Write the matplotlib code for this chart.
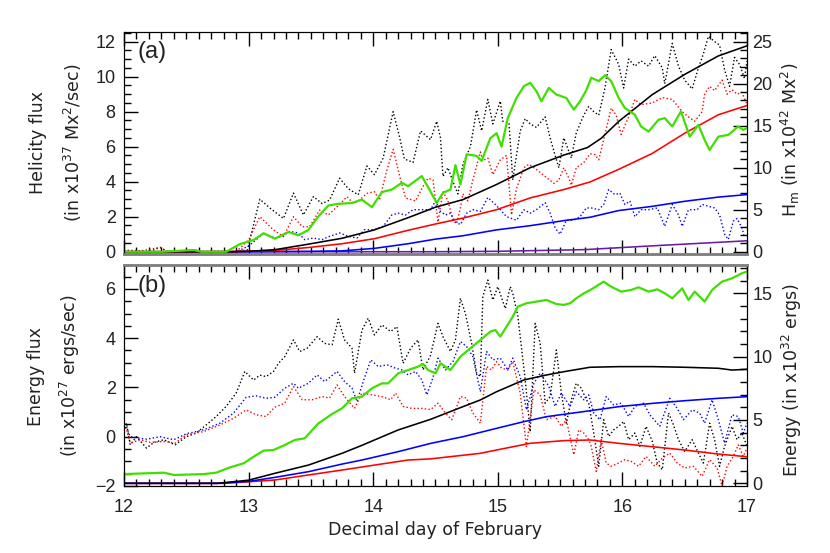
import matplotlib
matplotlib.use('Agg')
import matplotlib.pyplot as plt
from matplotlib.ticker import MultipleLocator

plt.rcParams['font.family'] = ['Liberation Sans', 'DejaVu Sans']
plt.rcParams['mathtext.default'] = 'regular'

# ---------------- panel (a): helicity ----------------
# dotted curves: helicity flux (left axis, x10^37 Mx^2/sec)
a_blk_dot_day = [12.0, 12.1, 12.2, 12.29, 12.35, 12.56, 12.65, 12.88, 12.99, 13.09, 13.17, 13.28,
                 13.36, 13.44, 13.52, 13.59, 13.65, 13.73, 13.80, 13.88, 13.95, 14.01, 14.08, 14.16,
                 14.21, 14.25, 14.32, 14.38, 14.46, 14.51, 14.54, 14.56, 14.60, 14.64, 14.68, 14.72,
                 14.78, 14.83, 14.87, 14.92, 14.96, 15.02, 15.04, 15.09, 15.12, 15.18, 15.22, 15.26,
                 15.31, 15.38, 15.42, 15.46, 15.49, 15.53, 15.59, 15.63, 15.69, 15.73, 15.77, 15.81,
                 15.86, 15.91, 15.97, 16.01, 16.05, 16.10, 16.15, 16.21, 16.26, 16.32, 16.34, 16.40,
                 16.45, 16.50, 16.56, 16.61, 16.65, 16.69, 16.74, 16.78, 16.82, 16.86, 16.90, 16.94,
                 16.98, 17.0]
a_blk_dot = [0.0, 0.05, 0.0, 0.25, 0.0, 0.1, 0.0, 0.0, 0.1, 3.0, 2.5, 1.9,
             3.35, 2.1, 3.15, 2.75, 2.95, 4.2, 3.6, 3.25, 4.9, 4.4, 5.35, 8.0,
             6.6, 5.3, 5.1, 6.9, 6.4, 7.45, 6.5, 4.3, 4.8, 4.0, 3.3, 5.0,
             6.0, 8.1, 6.9, 8.7, 7.3, 8.6, 7.45, 7.35, 4.1, 6.9, 7.6, 7.3,
             7.1, 7.7, 6.5, 5.5, 4.8, 6.5, 5.35, 6.8, 7.8, 8.3, 8.0, 7.8,
             9.35, 11.55, 10.7, 9.35, 11.0, 10.6, 10.9, 10.6, 11.2, 10.5, 9.6, 11.9,
             10.6, 9.8, 9.3, 10.5, 11.3, 12.3, 12.0, 11.8, 10.4, 9.45, 11.1, 10.7,
             9.9, 10.9]

a_red_dot_day = [12.0, 12.05, 12.1, 12.29, 12.35, 12.56, 12.6, 12.74, 12.9, 13.0, 13.09, 13.20,
                 13.28, 13.36, 13.43, 13.49, 13.57, 13.64, 13.71, 13.79, 13.84, 13.89, 13.95, 14.01,
                 14.05, 14.11, 14.16, 14.22, 14.26, 14.34, 14.39, 14.44, 14.48, 14.52, 14.56, 14.60,
                 14.64, 14.67, 14.70, 14.72, 14.76, 14.80, 14.86, 14.88, 14.92, 14.96, 15.02, 15.07,
                 15.11, 15.15, 15.21, 15.25, 15.31, 15.38, 15.45, 15.49, 15.53, 15.57, 15.59, 15.63,
                 15.69, 15.74, 15.78, 15.81, 15.86, 15.91, 15.95, 15.99, 16.05, 16.10, 16.15, 16.24,
                 16.32, 16.40, 16.48, 16.53, 16.58, 16.64, 16.66, 16.70, 16.74, 16.80, 16.84, 16.88,
                 16.92, 16.96, 17.0]
a_red_dot = [0.05, 0.1, 0.0, 0.25, 0.0, 0.08, 0.0, 0.05, 0.0, 0.67, 2.0, 1.24,
             0.86, 2.0, 1.43, 1.43, 2.38, 2.1, 2.57, 3.14, 2.76, 2.95, 3.33, 3.43,
             2.95, 4.67, 5.85, 4.1, 3.07, 2.9, 3.6, 4.2, 4.1, 1.7, 3.45, 2.9,
             1.8, 1.6, 2.5, 3.3, 2.9, 4.1, 5.7, 5.2, 5.35, 4.4, 5.25, 5.5,
             2.1, 3.6, 4.8, 5.0, 4.7, 4.3, 3.9, 4.1, 4.8, 4.2, 3.8, 4.8,
             5.1, 5.6, 5.55, 5.25, 6.7, 8.2, 7.8, 6.7, 7.7, 8.7, 8.4, 8.5,
             8.8, 8.7, 8.0, 7.7, 7.45, 8.0, 9.0, 9.45, 9.2, 9.8, 9.0, 9.25,
             9.0, 9.1, 8.4]

a_blu_dot_day = [12.0, 12.9, 13.0, 13.12, 13.21, 13.27, 13.33, 13.40, 13.45, 13.52, 13.59, 13.65,
                 13.73, 13.80, 13.87, 13.93, 14.01, 14.08, 14.15, 14.20, 14.26, 14.32, 14.39, 14.46,
                 14.50, 14.54, 14.58, 14.62, 14.66, 14.70, 14.75, 14.80, 14.86, 14.92, 14.98, 15.02,
                 15.07, 15.15, 15.21, 15.26, 15.31, 15.38, 15.42, 15.46, 15.50, 15.55, 15.61, 15.66,
                 15.71, 15.75, 15.81, 15.85, 15.89, 15.94, 15.98, 16.02, 16.06, 16.10, 16.15, 16.21,
                 16.28, 16.34, 16.40, 16.45, 16.48, 16.53, 16.60, 16.64, 16.69, 16.74, 16.78, 16.82,
                 16.85, 16.89, 16.92, 16.96, 16.98]
a_blu_dot = [0.0, 0.0, 0.32, 1.05, 0.78, 0.88, 1.16, 1.07, 0.69, 0.78, 0.69, 0.88,
             1.07, 0.88, 0.78, 1.26, 1.26, 1.45, 2.1, 2.2, 2.1, 2.4, 2.4, 2.4,
             2.9, 2.3, 2.1, 2.2, 1.7, 1.55, 2.2, 2.4, 2.3, 3.1, 2.7, 2.4,
             2.0, 1.8, 2.4, 2.2, 2.4, 2.8, 2.2, 1.35, 1.0, 1.8, 1.8, 2.0,
             2.5, 2.5, 2.4, 2.7, 3.55, 3.26, 3.35, 2.7, 2.9, 2.0, 2.4, 2.4,
             2.5, 1.45, 2.7, 2.1, 1.45, 2.4, 2.4, 2.7, 2.6, 2.5, 2.1, 1.0,
             0.7, 1.75, 1.9, 1.35, 0.8]

# green and solid curves: right axis (H_m, x10^42 Mx^2)
a_grn_day = [12.0, 12.3, 12.56, 12.62, 12.82, 12.93, 13.04, 13.12, 13.21, 13.32, 13.40, 13.48,
             13.56, 13.64, 13.72, 13.83, 13.91, 13.99, 14.07, 14.15, 14.23, 14.28, 14.39, 14.44,
             14.51, 14.56, 14.62, 14.66, 14.70, 14.75, 14.83, 14.87, 14.94, 14.99, 15.03, 15.08,
             15.15, 15.21, 15.26, 15.31, 15.35, 15.41, 15.47, 15.55, 15.61, 15.66, 15.71, 15.75,
             15.81, 15.86, 15.91, 15.97, 16.02, 16.10, 16.15, 16.21, 16.29, 16.34, 16.40, 16.47,
             16.54, 16.61, 16.66, 16.70, 16.77, 16.85, 16.93, 16.97, 17.0]
a_grn = [0.0, 0.0, 0.2, 0.0, 0.0, 0.9, 1.4, 2.2, 1.55, 2.35, 1.95, 2.6,
         4.2, 5.5, 5.7, 5.8, 6.2, 5.3, 7.1, 7.4, 8.2, 7.8, 9.0, 7.7,
         5.8, 7.0, 7.4, 10.3, 8.0, 11.6, 11.4, 10.8, 13.5, 14.1, 12.5, 15.9,
         18.3, 19.7, 20.1, 19.1, 17.9, 19.5, 18.7, 18.3, 16.9, 17.9, 19.2, 20.7,
         20.3, 21.0, 20.3, 18.3, 17.1, 16.3, 14.9, 14.3, 15.7, 15.9, 14.9, 16.7,
         13.7, 15.1, 13.3, 12.1, 13.7, 13.9, 14.9, 14.5, 14.7]

a_blk_day = [12.0, 12.85, 13.0, 13.21, 13.48, 13.75, 14.01, 14.28, 14.50, 14.72, 14.99, 15.26,
             15.53, 15.72, 15.83, 15.97, 16.24, 16.50, 16.77, 17.0]
a_blk = [0.0, 0.0, 0.05, 0.24, 0.9, 1.6, 2.6, 4.05, 5.3, 6.2, 8.0, 10.0,
         11.5, 12.4, 13.5, 15.5, 18.7, 21.1, 23.3, 24.5]

a_red_day = [12.0, 12.8, 13.21, 13.48, 13.75, 14.01, 14.28, 14.50, 14.72, 14.99, 15.26, 15.53,
             15.74, 15.97, 16.24, 16.50, 16.77, 17.0]
a_red = [0.0, 0.0, 0.15, 0.5, 0.95, 1.55, 2.55, 3.3, 4.0, 5.0, 6.4, 7.4,
         8.3, 9.8, 11.7, 14.1, 16.3, 17.4]

a_blu_day = [12.0, 13.0, 13.5, 13.75, 14.01, 14.28, 14.50, 14.72, 14.99, 15.26, 15.53, 15.74,
             15.97, 16.24, 16.50, 16.77, 17.0]
a_blu = [0.0, 0.0, 0.05, 0.1, 0.4, 0.95, 1.5, 1.9, 2.6, 3.1, 3.7, 4.1,
         4.9, 5.4, 6.0, 6.5, 6.8]

a_pur_day = [12.0, 14.5, 15.0, 15.7, 16.24, 17.0]
a_pur = [0.0, 0.0, 0.05, 0.25, 0.7, 1.3]

# ---------------- panel (b): energy ----------------
# dotted curves: energy flux (left axis, x10^27 ergs/sec)
b_blk_dot_day = [12.0, 12.02, 12.05, 12.10, 12.18, 12.24, 12.32, 12.41, 12.50, 12.58, 12.66, 12.74,
                 12.82, 12.90, 12.97, 13.04, 13.09, 13.14, 13.20, 13.24, 13.29, 13.36, 13.41, 13.47,
                 13.55, 13.61, 13.67, 13.72, 13.77, 13.83, 13.85, 13.91, 13.96, 14.01, 14.07, 14.14,
                 14.19, 14.24, 14.30, 14.36, 14.40, 14.46, 14.52, 14.56, 14.62, 14.66, 14.70, 14.74,
                 14.79, 14.83, 14.86, 14.88, 14.92, 14.96, 15.00, 15.06, 15.10, 15.12, 15.16, 15.22,
                 15.26, 15.30, 15.34, 15.38, 15.42, 15.47, 15.51, 15.55, 15.59, 15.63, 15.67, 15.71,
                 15.73, 15.77, 15.81, 15.85, 15.89, 15.93, 15.97, 16.01, 16.05, 16.10, 16.14, 16.19,
                 16.24, 16.28, 16.32, 16.37, 16.41, 16.45, 16.50, 16.56, 16.61, 16.65, 16.70, 16.74,
                 16.78, 16.82, 16.88, 16.92, 16.96, 17.0]
b_blk_dot = [0.2, 0.55, -0.33, 0.0, -0.46, -0.23, -0.12, -0.33, 0.0, 0.15, 0.48, 0.82,
             1.23, 1.77, 2.65, 2.3, 2.5, 2.44, 2.65, 2.98, 3.25, 3.93, 3.46, 3.59,
             4.06, 3.79, 3.73, 4.77, 3.93, 3.59, 2.58, 4.33, 4.81, 4.13, 4.54, 4.27,
             4.47, 2.98, 3.59, 3.93, 2.71, 3.3, 4.6, 4.06, 3.46, 3.93, 5.62, 5.0,
             3.79, 2.58, 2.44, 5.68, 6.36, 5.55, 6.09, 5.2, 6.09, 5.82, 4.94, 2.31,
             0.2, 4.6, 3.79, 1.36, 1.63, 3.52, 1.77, 0.55, 1.5, 2.17, 1.97, 1.5,
             1.36, 0.15, -1.2, 0.69, 0.01, 0.28, 0.42, 0.62, -0.12, 0.15, -0.39, 0.42,
             -0.19, -1.07, -1.34, 0.96, 0.48, -0.12, -0.6, -0.12, -0.66, -1.07, 0.55, -0.12,
             -1.2, -0.39, 0.42, -0.12, 0.15, -0.39]

b_blu_dot_day = [12.0, 12.02, 12.05, 12.18, 12.29, 12.40, 12.50, 12.64, 12.77, 12.88, 12.98, 13.06,
                 13.14, 13.21, 13.29, 13.36, 13.40, 13.48, 13.55, 13.61, 13.71, 13.77, 13.83, 13.87,
                 13.92, 13.98, 14.04, 14.11, 14.18, 14.23, 14.28, 14.34, 14.39, 14.43, 14.48, 14.52,
                 14.58, 14.64, 14.70, 14.75, 14.80, 14.86, 14.91, 14.96, 15.02, 15.08, 15.12, 15.18,
                 15.23, 15.29, 15.34, 15.41, 15.46, 15.51, 15.58, 15.63, 15.69, 15.73, 15.77, 15.82,
                 15.87, 15.93, 15.99, 16.05, 16.10, 16.17, 16.22, 16.30, 16.38, 16.44, 16.49, 16.56,
                 16.62, 16.66, 16.72, 16.77, 16.82, 16.88, 16.93, 16.97, 17.0]
b_blu_dot = [0.3, 0.4, 0.0, -0.1, 0.0, -0.12, 0.12, 0.28, 0.55, 0.96, 1.6, 1.66,
             1.56, 1.6, 1.97, 2.17, 1.97, 2.17, 2.51, 2.24, 2.65, 2.24, 1.97, 1.43,
             2.24, 3.12, 2.85, 2.92, 2.78, 2.71, 2.51, 2.65, 2.31, 1.7, 2.4, 3.19,
             2.71, 3.05, 3.86, 3.66, 3.25, 1.83, 3.46, 3.12, 3.19, 2.71, 3.19, 2.44,
             1.09, 2.17, 2.58, 2.04, 1.23, 1.77, 1.23, 1.83, 1.5, 1.7, 0.96, 0.69,
             1.63, 1.29, 1.36, 0.82, 1.23, 1.36, 0.89, 0.42, 1.56, 1.15, 0.69, 1.09,
             0.96, 0.55, 1.5, 0.69, -0.26, 0.89, 0.82, 0.15, 0.55]

b_red_dot_day = [12.0, 12.02, 12.05, 12.13, 12.21, 12.32, 12.41, 12.50, 12.64, 12.77, 12.88, 12.98,
                 13.06, 13.14, 13.21, 13.29, 13.36, 13.43, 13.51, 13.59, 13.65, 13.71, 13.77, 13.85,
                 13.91, 13.99, 14.07, 14.14, 14.18, 14.24, 14.31, 14.39, 14.46, 14.52, 14.58, 14.63,
                 14.70, 14.75, 14.80, 14.86, 14.91, 14.95, 14.99, 15.03, 15.08, 15.12, 15.18, 15.23,
                 15.29, 15.34, 15.39, 15.46, 15.51, 15.55, 15.61, 15.65, 15.69, 15.73, 15.75, 15.79,
                 15.83, 15.87, 15.91, 15.97, 16.02, 16.07, 16.13, 16.19, 16.26, 16.32, 16.38, 16.44,
                 16.50, 16.57, 16.64, 16.70, 16.76, 16.80, 16.84, 16.89, 16.93, 16.97, 17.0]
b_red_dot = [0.35, 0.3, -0.26, -0.12, -0.23, -0.19, -0.26, 0.08, 0.21, 0.48, 0.75, 1.09,
             0.89, 0.82, 1.2, 1.36, 2.04, 1.5, 1.5, 1.63, 1.57, 2.1, 1.63, 1.15,
             1.77, 1.7, 1.63, 1.5, 1.77, 1.23, 1.15, 1.15, 1.1, 1.36, 0.96, 0.69,
             1.63, 1.57, 0.96, 0.55, 2.85, 2.71, 3.05, 2.78, 2.71, 3.05, 1.77, -0.4,
             1.9, 1.7, 0.69, 0.83, 0.42, 0.69, -0.73, 0.28, 0.15, -0.12, -0.39, -1.41,
             -0.12, -1.07, -1.2, -1.07, -0.93, -1.0, -1.2, -0.8, -1.2, -0.87, -0.66, -1.07,
             -1.27, -1.2, -1.61, -0.93, -1.27, -2.0, -1.2, -0.8, -0.33, -0.8, -0.46]

# green and solid curves: right axis (energy, x10^32 ergs)
b_grn_day = [12.0, 12.32, 12.40, 12.64, 12.74, 12.85, 12.96, 13.04, 13.12, 13.20, 13.29, 13.37,
             13.45, 13.56, 13.67, 13.75, 13.83, 13.91, 13.99, 14.07, 14.12, 14.20, 14.28, 14.36,
             14.40, 14.44, 14.50, 14.54, 14.62, 14.70, 14.78, 14.86, 14.94, 14.98, 15.02, 15.07,
             15.12, 15.16, 15.23, 15.31, 15.39, 15.47, 15.53, 15.58, 15.63, 15.69, 15.75, 15.85,
             15.91, 15.99, 16.07, 16.13, 16.21, 16.28, 16.34, 16.40, 16.48, 16.53, 16.58, 16.66,
             16.72, 16.80, 16.88, 16.96, 17.0]
b_grn = [0.73, 0.84, 0.66, 0.73, 0.84, 1.26, 1.58, 2.1, 2.58, 2.63, 3.02, 3.42,
         3.55, 4.73, 5.47, 5.92, 6.71, 6.84, 7.5, 7.89, 7.89, 8.68, 8.94, 9.21,
         9.42, 8.94, 8.68, 9.47, 8.94, 10.0, 10.66, 11.31, 11.97, 12.1, 11.58, 12.36,
         13.15, 13.94, 14.21, 14.34, 14.47, 14.15, 14.08, 14.21, 14.6, 14.99, 15.3, 15.92,
         15.52, 15.13, 15.26, 15.47, 15.13, 15.31, 15.0, 14.6, 15.39, 14.47, 15.13, 14.34,
         15.26, 15.92, 16.18, 16.58, 16.71]

b_blk_day = [12.0, 12.75, 13.0, 13.21, 13.48, 13.75, 13.91, 14.01, 14.20, 14.46, 14.72, 14.86,
             14.99, 15.21, 15.39, 15.53, 15.74, 15.97, 16.24, 16.50, 16.77, 16.88, 17.0]
b_blk = [0.0, 0.0, 0.25, 0.79, 1.44, 2.37, 3.0, 3.42, 4.21, 5.05, 6.05, 6.58,
         7.23, 8.16, 8.55, 8.81, 9.16, 9.21, 9.21, 9.16, 9.08, 8.94, 9.0]

b_blu_day = [12.0, 12.75, 13.0, 13.21, 13.48, 13.75, 13.91, 14.20, 14.46, 14.72, 14.99, 15.21,
             15.39, 15.74, 15.97, 16.24, 16.50, 16.77, 17.0]
b_blu = [0.0, 0.0, 0.15, 0.47, 0.92, 1.52, 1.84, 2.5, 3.15, 3.68, 4.34, 4.87,
         5.26, 5.73, 6.05, 6.31, 6.52, 6.71, 6.84]

b_red_day = [12.0, 12.8, 13.21, 13.48, 13.75, 14.01, 14.28, 14.46, 14.86, 14.99, 15.26, 15.53,
             15.74, 15.97, 16.24, 16.50, 16.77, 17.0]
b_red = [0.0, 0.0, 0.26, 0.66, 1.05, 1.44, 1.84, 1.93, 2.37, 2.63, 3.16, 3.37,
         3.42, 3.16, 2.89, 2.63, 2.31, 2.1]

GREEN = '#3fe000'
PURPLE = '#6a1aa8'
TXT = '#222222'

W, H = 830, 553
fig = plt.figure(figsize=(W / 100, H / 100), dpi=100)

ax_a = fig.add_axes([124 / W, 1 - 254 / H, 623 / W, 222 / H])
ax_b = fig.add_axes([124 / W, 1 - 486 / H, 623 / W, 221 / H])
ax_a2 = ax_a.twinx()
ax_b2 = ax_b.twinx()

dot = dict(linestyle=':', linewidth=1.0)
ax_a.plot(a_blk_dot_day, a_blk_dot, color='black', **dot)
ax_a.plot(a_red_dot_day, a_red_dot, color='red', **dot)
ax_a.plot(a_blu_dot_day, a_blu_dot, color='blue', **dot)
ax_a2.plot(a_pur_day, a_pur, color=PURPLE, lw=1.15)
ax_a2.plot(a_blu_day, a_blu, color='blue', lw=1.15)
ax_a2.plot(a_red_day, a_red, color='red', lw=1.15)
ax_a2.plot(a_blk_day, a_blk, color='black', lw=1.15)
ax_a2.plot(a_grn_day, a_grn, color=GREEN, lw=1.6)

ax_b.plot(b_blk_dot_day, b_blk_dot, color='black', **dot)
ax_b.plot(b_blu_dot_day, b_blu_dot, color='blue', **dot)
ax_b.plot(b_red_dot_day, b_red_dot, color='red', **dot)
ax_b2.plot(b_red_day, b_red, color='red', lw=1.15)
ax_b2.plot(b_blu_day, b_blu, color='blue', lw=1.15)
ax_b2.plot(b_blk_day, b_blk, color='black', lw=1.15)
ax_b2.plot(b_grn_day, b_grn, color=GREEN, lw=1.6)

# axis ranges
ax_a.set_ylim(-0.13, 12.55)
ax_a2.set_ylim(-0.13 * 25 / 12, 12.55 * 25 / 12)
ax_b.set_ylim(-2.0, 6.97)
ax_b2.set_ylim(-0.21, 17.23)
for ax in (ax_a, ax_b, ax_a2, ax_b2):
    ax.set_xlim(12, 17)
    ax.xaxis.set_major_locator(MultipleLocator(1))
    ax.xaxis.set_minor_locator(MultipleLocator(0.1))

ax_a.yaxis.set_major_locator(MultipleLocator(2))
ax_a.yaxis.set_minor_locator(MultipleLocator(0.5))
ax_a2.yaxis.set_major_locator(MultipleLocator(5))
ax_a2.yaxis.set_minor_locator(MultipleLocator(1))
ax_b.yaxis.set_major_locator(MultipleLocator(2))
ax_b.yaxis.set_minor_locator(MultipleLocator(0.5))
ax_b2.yaxis.set_major_locator(MultipleLocator(5))
ax_b2.yaxis.set_minor_locator(MultipleLocator(1))

for ax in (ax_a, ax_b):
    ax.tick_params(which='both', direction='in', top=True, bottom=True,
                   left=True, right=False, labelsize=13, labelcolor=TXT)
    ax.tick_params(which='major', length=10, width=1)
    ax.tick_params(which='minor', length=5, width=1)
    ax.tick_params(axis='y', pad=6)
    ax.tick_params(axis='x', pad=9)
for ax in (ax_a2, ax_b2):
    ax.tick_params(which='both', direction='in', top=False, bottom=False,
                   left=False, right=True, labelsize=13, labelcolor=TXT, pad=4)
    ax.tick_params(which='major', length=10, width=1)
    ax.tick_params(which='minor', length=5, width=1)

ax_a.tick_params(axis='x', labelbottom=False)
ax_a2.tick_params(axis='x', labelbottom=False)

# IDL look: gray seam between the two panels
for ax in (ax_a, ax_a2):
    ax.spines['bottom'].set_color('#808080')
    ax.spines['bottom'].set_linewidth(1.8)
for ax in (ax_b, ax_b2):
    ax.spines['top'].set_color('#808080')
    ax.spines['top'].set_linewidth(1.8)

# panel tags
ax_a.text(0.022, 0.91, '(a)', transform=ax_a.transAxes, fontsize=17, color=TXT,
          ha='left', va='center')
ax_b.text(0.022, 0.905, '(b)', transform=ax_b.transAxes, fontsize=17, color=TXT,
          ha='left', va='center')

# axis titles (wider face, as in the IDL output)
lab = dict(rotation=90, ha='center', va='center', fontsize=12.5, color=TXT,
           family=['DejaVu Sans'])
fig.text(38 / W, 1 - 143 / H, 'Helicity flux', **lab)
fig.text(73 / W, 1 - 143 / H, '(in x10$^{37}$ Mx$^{2}$/sec)', **lab)
fig.text(790 / W, 1 - 140 / H, 'H$_{m}$ (in x10$^{42}$ Mx$^{2}$)', **lab)
fig.text(36 / W, 1 - 376 / H, 'Energy flux', **lab)
fig.text(70 / W, 1 - 376 / H, '(in x10$^{27}$ ergs/sec)', **lab)
fig.text(792 / W, 1 - 380 / H, 'Energy (in x10$^{32}$ ergs)', **lab)
fig.text(435 / W, 1 - 530 / H, 'Decimal day of February', ha='center', va='center',
         fontsize=12.5, color=TXT, family=['DejaVu Sans'])

fig.savefig('out.png', dpi=100)
